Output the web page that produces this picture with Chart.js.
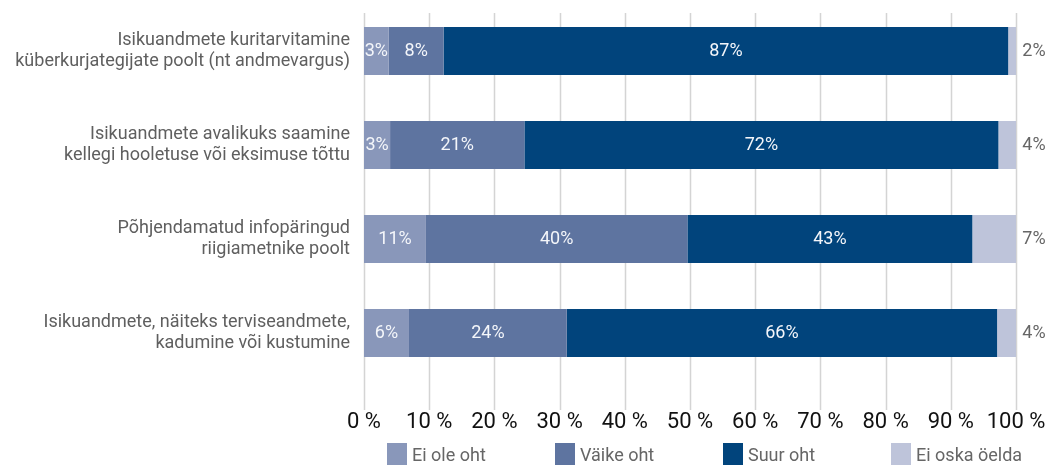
<!DOCTYPE html>
<html>
<head>
<meta charset="utf-8">
<script src="https://cdn.jsdelivr.net/npm/chart.js@4.4.1/dist/chart.umd.min.js"></script>
<style>
  html, body { margin: 0; padding: 0; background: #ffffff; }
  #wrap { width: 1046px; height: 466px; position: relative; }
</style>
</head>
<body>
<div id="wrap"><canvas id="c"></canvas></div>
<script>
// ---- data ----
const categories = [
  ["Isikuandmete kuritarvitamine", "küberkurjategijate poolt (nt andmevargus)"],
  ["Isikuandmete avalikuks saamine", "kellegi hooletuse või eksimuse tõttu"],
  ["Põhjendamatud infopäringud", "riigiametnike poolt"],
  ["Isikuandmete, näiteks terviseandmete,", "kadumine või kustumine"]
];
const seriesNames = ["Ei ole oht", "Väike oht", "Suur oht", "Ei oska öelda"];
// bar lengths as drawn (percent)
const eiOleOht   = [3.8, 4.0, 9.5, 6.9];
const vaikeOht   = [8.4, 20.6, 40.1, 24.2];
const suurOht    = [86.6, 72.7, 43.7, 66.0];
const eiOskaOelda = [1.2, 2.7, 6.7, 2.9];
// printed value labels (percent)
const eiOleOhtLabels    = [3, 3, 11, 6];
const vaikeOhtLabels    = [8, 21, 40, 24];
const suurOhtLabels     = [87, 72, 43, 66];
const eiOskaOeldaLabels = [2, 4, 7, 4];
const xTicks = [0, 10, 20, 30, 40, 50, 60, 70, 80, 90, 100];

const colors = ["#8997ba", "#5e74a0", "#01447c", "#bec4da"];
const FONT = "Roboto, 'Noto Sans', sans-serif";

const valueSets = [eiOleOht, vaikeOht, suurOht, eiOskaOelda];
const labelSets = [eiOleOhtLabels, vaikeOhtLabels, suurOhtLabels, eiOskaOeldaLabels];

const datasets = seriesNames.map((name, i) => ({
  label: name,
  data: valueSets[i],
  valueLabels: labelSets[i],
  backgroundColor: colors[i],
  borderWidth: 0,
  categoryPercentage: 1.0,
  barPercentage: 0.511
}));

// gridlines plugin (vertical lines extending below chart area)
const gridPlugin = {
  id: 'customGrid',
  beforeDatasetsDraw(chart) {
    const { ctx, chartArea, scales } = chart;
    const xs = scales.x;
    ctx.save();
    ctx.strokeStyle = '#d4d4d4';
    ctx.lineWidth = 1.5;
    xTicks.forEach(v => {
      const px = Math.round(xs.getPixelForValue(v)) + 0.5;
      ctx.beginPath();
      ctx.moveTo(px, chartArea.top + 9);
      ctx.lineTo(px, chartArea.bottom + 30);
      ctx.stroke();
    });
    ctx.restore();
  }
};

// value labels plugin
const valueLabelPlugin = {
  id: 'valueLabels',
  afterDatasetsDraw(chart) {
    const { ctx, chartArea } = chart;
    ctx.save();
    ctx.font = "18px " + FONT;
    ctx.textBaseline = 'middle';
    ctx.textAlign = 'center';
    chart.data.datasets.forEach((ds, di) => {
      const meta = chart.getDatasetMeta(di);
      meta.data.forEach((bar, i) => {
        const txt = ds.valueLabels[i] + "%";
        if (di === 3) {
          ctx.fillStyle = '#666666';
          ctx.fillText(txt, chartArea.right + 18, bar.y);
        } else {
          ctx.fillStyle = '#f4f6fa';
          const cx = (bar.x + bar.base) / 2;
          ctx.fillText(txt, cx, bar.y);
        }
      });
    });
    ctx.restore();
  }
};

// legend plugin (evenly spaced columns)
const legendPlugin = {
  id: 'colLegend',
  afterDraw(chart) {
    const { ctx, chartArea } = chart;
    ctx.save();
    ctx.font = "18px " + FONT;
    ctx.textBaseline = 'middle';
    ctx.textAlign = 'left';
    const startX = chartArea.left + 23;
    const step = 168;
    const top = 443;
    chart.data.datasets.forEach((ds, i) => {
      const x = startX + i * step;
      ctx.fillStyle = ds.backgroundColor;
      ctx.fillRect(x, top, 20, 22);
      ctx.fillStyle = '#666666';
      ctx.fillText(ds.label, x + 25, top + 13);
    });
    ctx.restore();
  }
};

new Chart(document.getElementById('c'), {
  type: 'bar',
  data: { labels: categories, datasets },
  plugins: [gridPlugin, valueLabelPlugin, legendPlugin],
  options: {
    indexAxis: 'y',
    responsive: true,
    maintainAspectRatio: false,
    animation: false,
    layout: { padding: { top: 4, right: 30, bottom: 0, left: 0 } },
    plugins: {
      legend: { display: false },
      tooltip: { enabled: false }
    },
    scales: {
      x: {
        stacked: true,
        min: 0,
        max: 100,
        afterBuildTicks(scale) { scale.ticks = xTicks.map(v => ({ value: v })); },
        afterFit(scale) { scale.height = 86; scale.paddingLeft = 0; scale.paddingRight = 0; },
        grid: { display: false, drawTicks: false },
        border: { display: false },
        ticks: {
          padding: 29,
          color: '#111111',
          font: { family: FONT, size: 22 },
          maxRotation: 0,
          autoSkip: false,
          callback: (v) => v + " %"
        }
      },
      y: {
        stacked: true,
        afterFit(scale) { scale.width = 364; scale.paddingTop = 0; scale.paddingBottom = 0; },
        grid: { display: false, drawTicks: false },
        border: { display: false },
        ticks: {
          padding: 14,
          color: '#5f5f5f',
          font: { family: FONT, size: 18, lineHeight: 1.22 },
          autoSkip: false
        }
      }
    }
  }
});
</script>
</body>
</html>
